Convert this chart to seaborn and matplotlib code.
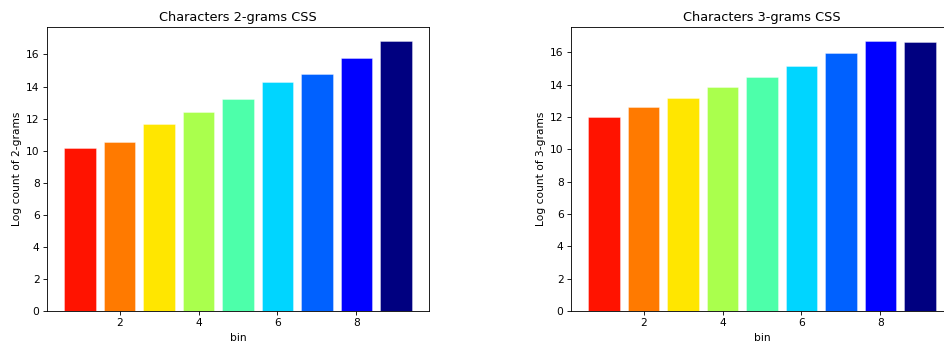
import matplotlib
matplotlib.use("Agg")
import matplotlib.pyplot as plt
import numpy as np
import pandas as pd
import seaborn as sns

bins = [1, 2, 3, 4, 5, 6, 7, 8, 9]
log_count_2grams = [10.15, 10.56, 11.67, 12.43, 13.24, 14.29, 14.80, 15.80, 16.87]
log_count_3grams = [12.02, 12.60, 13.19, 13.87, 14.49, 15.16, 15.96, 16.72, 16.62]
titles = ["Characters 2-grams CSS", "Characters 3-grams CSS"]
ylabels = ["Log count of 2-grams", "Log count of 3-grams"]
xlabel = "bin"

s = 0.77
plt.rcParams.update({
    "font.size": 10 * s,
    "axes.titlesize": 12 * s,
    "axes.labelsize": 10 * s,
    "xtick.labelsize": 10 * s,
    "ytick.labelsize": 10 * s,
    "xtick.major.size": 3.5 * s,
    "ytick.major.size": 3.5 * s,
    "xtick.major.width": 0.8 * s,
    "ytick.major.width": 0.8 * s,
    "xtick.major.pad": 3.5 * s,
    "ytick.major.pad": 3.5 * s,
    "axes.linewidth": 0.8 * s,
    "axes.titlepad": 6 * s,
    "axes.labelpad": 4 * s,
})

jet = plt.get_cmap("jet")
colors = [jet(v) for v in np.linspace(0, 1, 10)[:9][::-1]]
palette = {b: c for b, c in zip(bins, colors)}

fig = plt.figure(figsize=(9.44, 3.47), dpi=100)
ax1 = fig.add_axes([47 / 944, 1 - 311 / 347, 382 / 944, 284 / 347])
ax2 = fig.add_axes([571 / 944, 1 - 311 / 347, 382 / 944, 284 / 347])

for ax, vals, title, ylab in zip([ax1, ax2], [log_count_2grams, log_count_3grams], titles, ylabels):
    df = pd.DataFrame({"bin": bins, "value": vals})
    sns.barplot(data=df, x="bin", y="value", hue="bin", palette=palette,
                native_scale=True, legend=False, saturation=1, width=0.8,
                edgecolor=(1, 1, 1, 0.5), linewidth=0.5, ax=ax)
    ax.set_xlim(0.16, 9.84)
    ax.set_ylim(0, max(vals) * 1.05)
    ax.set_xticks([2, 4, 6, 8])
    ax.set_title(title)
    ax.set_ylabel(ylab)
    ax.set_xlabel(xlabel)

fig.savefig("out.png", dpi=100)
